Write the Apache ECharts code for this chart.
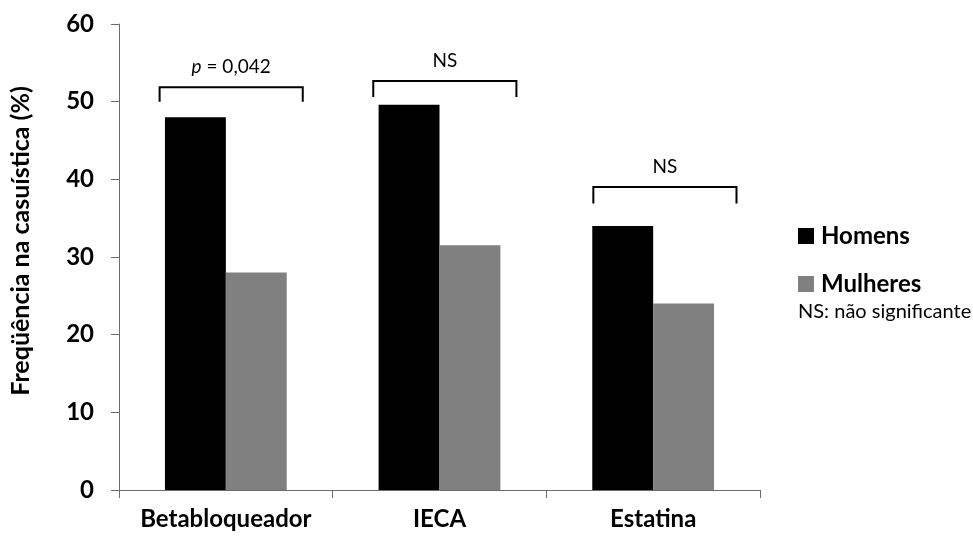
<!DOCTYPE html>
<html>
<head>
<meta charset="utf-8">
<script src="https://cdn.jsdelivr.net/npm/echarts@6/dist/echarts.min.js"></script>
<style>html,body{margin:0;padding:0;background:#fff}#c{width:973px;height:536px}</style>
</head>
<body>
<div id="c"></div>
<script>
const categories = ['Betabloqueador', 'IECA', 'Estatina'];
const homens = [48.0, 49.6, 34.0];
const mulheres = [28.0, 31.5, 24.0];
const yTicks = [0, 10, 20, 30, 40, 50, 60];
// significance brackets: category index, top value, leg bottom value, label
const bracketCat = [0, 1, 2];
const bracketTop = [51.85, 52.65, 39.0];
const bracketBottom = [50.0, 50.6, 36.9];
const bracketLabel = ['{i|p} = 0,042', 'NS', 'NS'];

const FONT = 'Lato, "Open Sans", sans-serif';
const spans = [[-0.31, 0.36], [-0.31, 0.36], [-0.28, 0.39]];

const chart = echarts.init(document.getElementById('c'), null, {renderer: 'canvas'});
chart.setOption({
  animation: false,
  backgroundColor: '#fff',
  grid: {left: 119, right: 213, top: 24, bottom: 46, containLabel: false},
  legend: {
    orient: 'vertical', left: 798, top: 224, padding: 0, itemWidth: 16, itemHeight: 16, itemGap: 24,
    icon: 'rect', data: ['Homens', 'Mulheres'],
    textStyle: {fontFamily: FONT, fontSize: 24, fontWeight: 'bold', color: '#000', padding: [0, 0, 0, 2]}
  },
  graphic: [{
    type: 'text', left: 798, top: 302,
    style: {text: 'NS: não significante', font: '20px ' + FONT, fill: '#000'}
  }],
  xAxis: {
    type: 'category', data: categories,
    axisLine: {lineStyle: {color: '#6b6b6b', width: 1}},
    axisTick: {show: true, alignWithLabel: false, length: 8, lineStyle: {color: '#6b6b6b'}},
    axisLabel: {interval: 0, fontFamily: FONT, fontSize: 24, fontWeight: 'bold', color: '#000', margin: 17}
  },
  yAxis: {
    type: 'value', min: yTicks[0], max: yTicks[yTicks.length - 1], interval: 10,
    name: 'Freqüência na casuística (%)', nameLocation: 'middle', nameGap: 86, nameRotate: 90,
    nameTextStyle: {fontFamily: FONT, fontSize: 25, fontWeight: 'bold', color: '#000', padding: [0, 0, 0, 32]},
    axisLine: {show: true, lineStyle: {color: '#6b6b6b', width: 1}},
    axisTick: {show: true, length: 8, lineStyle: {color: '#6b6b6b'}},
    splitLine: {show: false},
    axisLabel: {fontFamily: FONT, fontSize: 24, fontWeight: 'bold', color: '#000', margin: 25}
  },
  series: [
    {name: 'Homens', type: 'bar', data: homens, barWidth: '28.5%', barGap: '0%',
     itemStyle: {color: '#000'}},
    {name: 'Mulheres', type: 'bar', data: mulheres, barWidth: '28.5%', barGap: '0%',
     itemStyle: {color: '#808080'}},
    {
      type: 'custom', name: 'brackets', silent: true,
      data: bracketCat.map((c, i) => [c, bracketTop[i], bracketBottom[i], i]),
      encode: {x: 0, y: 1},
      renderItem: function (params, api) {
        const i = api.value(3);
        const top = api.coord([api.value(0), api.value(1)]);
        const bot = api.coord([api.value(0), api.value(2)]);
        const bw = api.size([1, 0])[0];
        const l = top[0] + spans[i][0] * bw;
        const r = top[0] + spans[i][1] * bw;
        return {
          type: 'group',
          children: [
            {type: 'polyline', shape: {points: [[l, bot[1]], [l, top[1]], [r, top[1]], [r, bot[1]]]},
             style: {stroke: '#000', lineWidth: 2, fill: null}},
            {type: 'text', x: (l + r) / 2, y: top[1] - 20,
             style: {text: bracketLabel[i], align: 'center', verticalAlign: 'middle',
                     font: '19px ' + FONT, fill: '#000',
                     rich: {i: {fontStyle: 'italic', fontSize: 19, fontFamily: FONT}}}}
          ]
        };
      }
    }
  ]
});
</script>
</body>
</html>
